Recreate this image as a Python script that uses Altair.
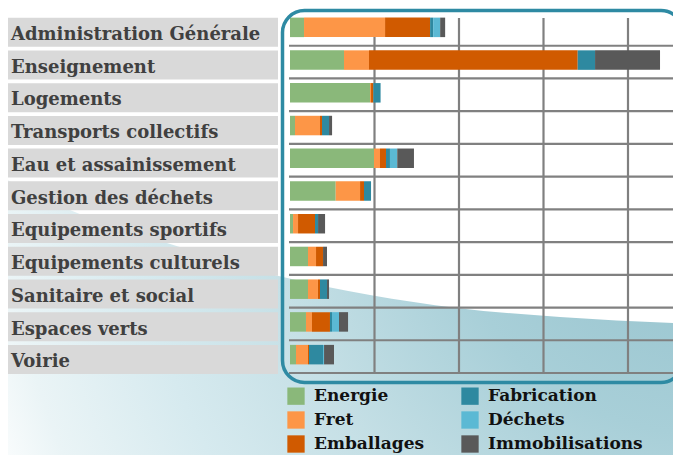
import altair as alt
import pandas as pd

# ---- data -------------------------------------------------------------
categories = [
    "Administration Générale", "Enseignement", "Logements", "Transports collectifs",
    "Eau et assainissement", "Gestion des déchets", "Equipements sportifs",
    "Equipements culturels", "Sanitaire et social", "Espaces verts", "Voirie",
]
series = ["Energie", "Fret", "Emballages", "Fabrication", "Déchets", "Immobilisations"]
colors = ["#8ab87a", "#fd9647", "#d05a00", "#2e89a0", "#5bb9d4", "#595959"]

energie = [166, 639, 947, 59, 994, 541, 36, 213, 213, 189, 71]
fret = [959, 296, 12, 296, 71, 288, 59, 95, 118, 71, 142]
emballages = [533, 2470, 27, 24, 71, 47, 201, 83, 24, 213, 12]
fabrication = [36, 205, 86, 83, 47, 83, 36, 0, 83, 24, 166]
dechets = [83, 0, 0, 0, 86, 0, 0, 0, 0, 83, 12]
immobilisations = [59, 769, 0, 36, 198, 0, 83, 47, 24, 107, 118]

grid_ticks = [1000, 2000, 3000, 4000]

# decorative background wave (page-pixel shape)
wave_x = [0, 70, 167, 283, 370, 457, 560, 700]
wave_y = [176, 210, 243, 277, 295, 308, 317, 324]
wave_bottom = [463, 463, 463, 463, 463, 463, 463, 463]

# ---- tables -----------------------------------------------------------
rows = []
for si, (s, vals) in enumerate(zip(series, [energie, fret, emballages, fabrication, dechets, immobilisations])):
    for c, v in zip(categories, vals):
        if v > 0:
            rows.append({"cat": c, "serie": s, "val": v, "ord": si})
df = pd.DataFrame(rows)
cat_df = pd.DataFrame({"cat": categories})
tick_df = pd.DataFrame({"t": grid_ticks})
wave_df = pd.DataFrame({"wx": wave_x, "wy": wave_y, "wb": wave_bottom})
one_df = pd.DataFrame({"a": [0]})

FONT = "DejaVu Serif"
GRID = "#808080"

W, H = 383, 360
BAND = H / len(categories)
PX_PER_UNIT = 84.5 / 1000

xscale = alt.Scale(domain=[0, W / PX_PER_UNIT], nice=False)
yband = alt.Y("cat:N", sort=categories, axis=None,
              scale=alt.Scale(paddingInner=0, paddingOuter=0))

# ---- layers -----------------------------------------------------------
wave = alt.Chart(wave_df).mark_area(
    interpolate="monotone",
    color=alt.RadialGradient(
        gradient="radial",
        stops=[
            alt.GradientStop(offset=0, color="#92c0cb"),
            alt.GradientStop(offset=0.33, color="#a8cfd8"),
            alt.GradientStop(offset=0.56, color="#c6e0e6"),
            alt.GradientStop(offset=0.73, color="#d6eaef"),
            alt.GradientStop(offset=0.9, color="#eaf4f6"),
            alt.GradientStop(offset=1, color="#ffffff"),
        ],
        x1=1, y1=0.3, r1=0, x2=1, y2=0.3, r2=1.1,
    ),
).encode(
    x=alt.X("wx:Q", scale=alt.Scale(domain=[290, 290 + W], nice=False, zero=False), axis=None),
    y=alt.Y("wy:Q", scale=alt.Scale(domain=[373, 13], nice=False, zero=False), axis=None),
    y2=alt.Y2("wb:Q"),
)

label_boxes = alt.Chart(cat_df).mark_bar(
    size=29, yOffset=2.85, color="#d9d9d9", orient="horizontal"
).encode(y=yband, x=alt.value(-284), x2=alt.value(-12))

label_text = alt.Chart(cat_df).mark_text(
    align="left", baseline="alphabetic", yOffset=10.6,
    font=FONT, fontWeight="bold", fontSize=18, color="#404040",
).encode(y=yband, x=alt.value(-279), text="cat:N")

hgrid = alt.Chart(cat_df).mark_rule(
    yOffset=BAND / 2, color=GRID, strokeWidth=2.2
).encode(y=yband, x=alt.value(-1), x2=alt.value(W + 10))

vgrid = alt.Chart(tick_df).mark_rule(color=GRID, strokeWidth=2.2).encode(
    x=alt.X("t:Q", scale=xscale, axis=None), y=alt.value(5), y2=alt.value(H)
)

bars = alt.Chart(df).mark_bar(size=19.5, yOffset=-2).encode(
    y=yband,
    x=alt.X("val:Q", stack="zero", scale=xscale, axis=None),
    color=alt.Color(
        "serie:N",
        scale=alt.Scale(domain=series, range=colors),
        legend=alt.Legend(
            title=None, orient="none", legendX=-3, legendY=374, columns=2,
            symbolType="square", symbolSize=300, symbolStrokeWidth=0,
            labelFont=FONT, labelFontWeight="bold", labelFontSize=17,
            labelColor="#111111", labelOffset=9, rowPadding=6,
            columnPadding=36, padding=0, labelLimit=300,
        ),
    ),
    order=alt.Order("ord:Q", sort="ascending"),
)

border = alt.Chart(one_df).mark_rect(
    filled=False, stroke="#2e8aa3", strokeWidth=3.5, cornerRadius=22
).encode(x=alt.value(-7.5), x2=alt.value(W + 10), y=alt.value(-2.5), y2=alt.value(369.5))

inner = alt.layer(label_boxes, label_text, hgrid, vgrid, bars)

chart = alt.layer(wave, inner, border).resolve_scale(
    x="independent", y="independent"
).properties(
    width=W, height=H,
    autosize=alt.AutoSizeParams(type="none"),
    padding={"left": 282, "top": 5, "right": 0, "bottom": 82},
    background="white",
).configure_view(strokeOpacity=0)

chart.save("out.html", embed_options={"renderer": "svg", "actions": False})
